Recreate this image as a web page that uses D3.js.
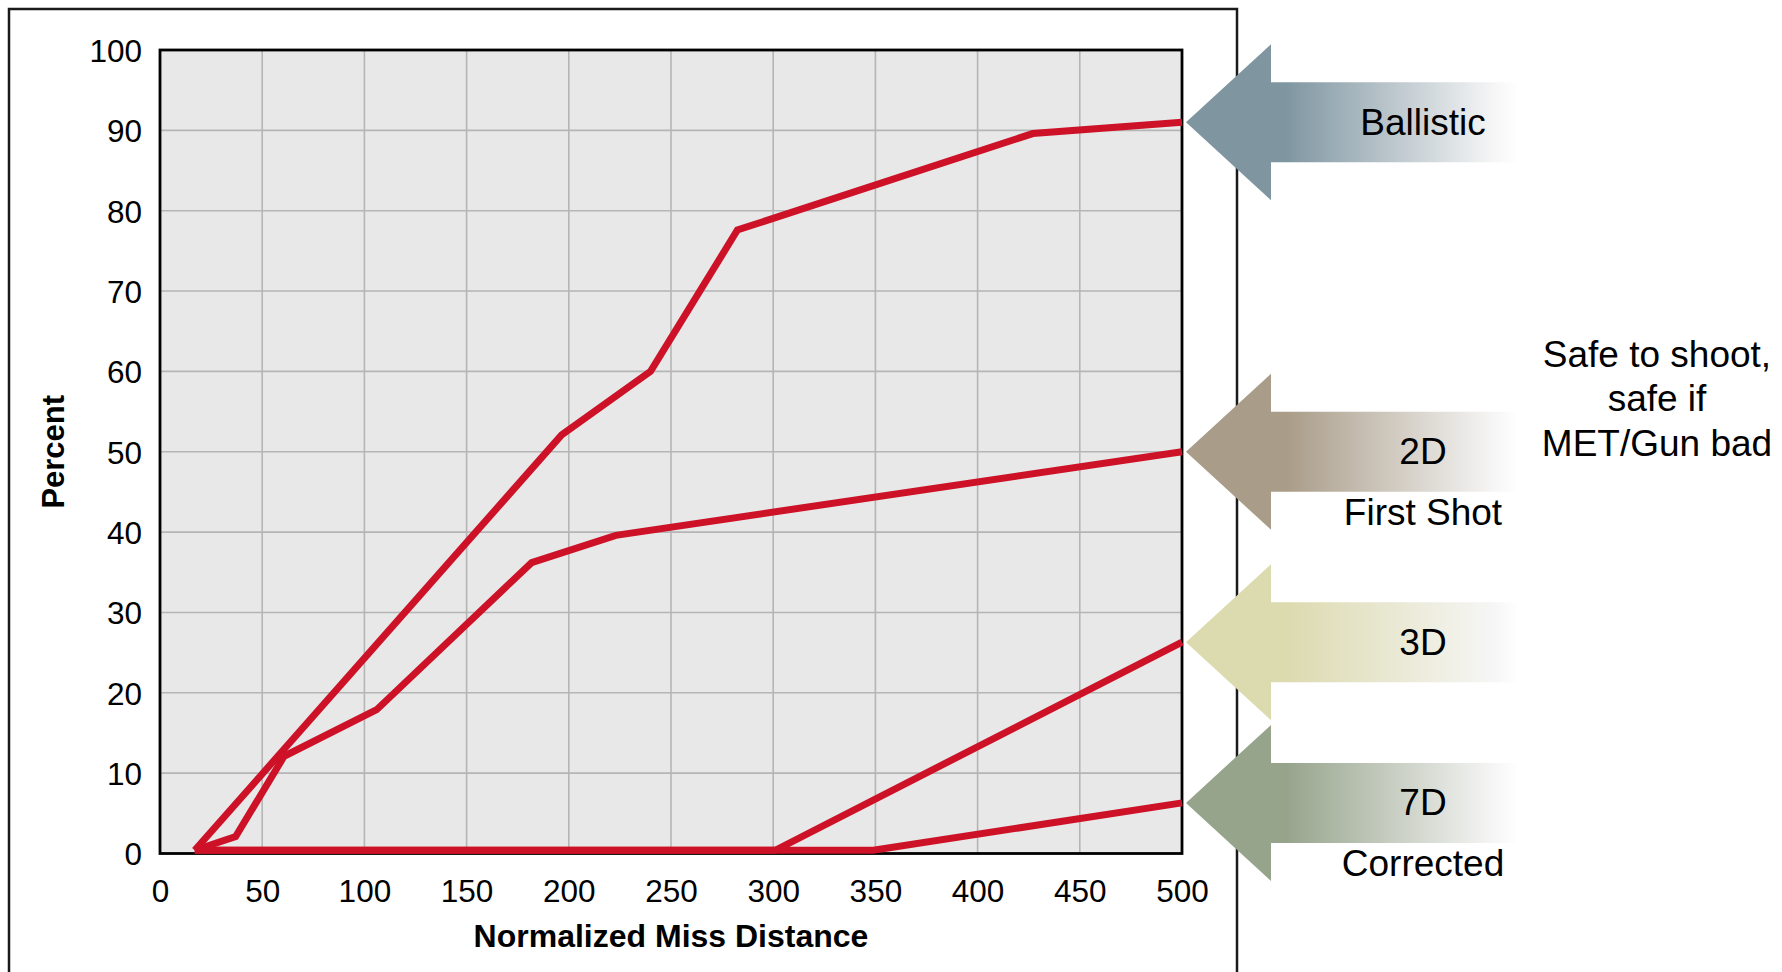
<!DOCTYPE html>
<html>
<head>
<meta charset="utf-8">
<script src="https://cdn.jsdelivr.net/npm/d3@7"></script>
<style>
  html, body { margin: 0; padding: 0; background: #fff; }
  svg { display: block; font-family: "Liberation Sans", Arial, Helvetica, sans-serif; }
</style>
</head>
<body>
<svg id="chart" width="1782" height="972"></svg>
<script>
// Cumulative percent of rounds vs. normalized miss distance, per targeting method
const xTickValues = [0, 50, 100, 150, 200, 250, 300, 350, 400, 450, 500];
const yTickValues = [0, 10, 20, 30, 40, 50, 60, 70, 80, 90, 100];

const ballistic = [[17, 0.4], [196.5, 52.1], [240, 60.0], [282.5, 77.6], [427, 89.6], [500, 91.0]];
const twoD      = [[17, 0.4], [37, 2.1], [60.7, 12.1], [106, 17.9], [181.8, 36.2], [223, 39.6], [500, 50.0]];
const threeD    = [[17, 0.4], [301, 0.4], [500, 26.3]];
const sevenD    = [[17, 0.4], [349, 0.4], [500, 6.3]];

const seriesNames  = ["Ballistic", "2D", "3D", "7D"];
const seriesNotes  = ["", "First Shot", "", "Corrected"];
const arrowColors  = ["#7f96a1", "#a99c88", "#dcdaaf", "#97a48c"];
const seriesData   = [ballistic, twoD, threeD, sevenD];

const sideNote = ["Safe to shoot,", "safe if", "MET/Gun bad"];

const xLabel = "Normalized Miss Distance";
const yLabel = "Percent";

const svg = d3.select("#chart");

const plot = { left: 160, right: 1182, top: 50, bottom: 853.5 };

const x = d3.scaleLinear().domain([0, 500]).range([plot.left, plot.right]);
const y = d3.scaleLinear().domain([0, 100]).range([plot.bottom, plot.top]);

// Outer panel frame (runs off the bottom edge)
svg.append("rect")
  .attr("x", 9).attr("y", 9)
  .attr("width", 1228).attr("height", 1100)
  .attr("fill", "none")
  .attr("stroke", "#1a1a1a")
  .attr("stroke-width", 2.5);

// Plot background
svg.append("rect")
  .attr("x", plot.left).attr("y", plot.top)
  .attr("width", plot.right - plot.left)
  .attr("height", plot.bottom - plot.top)
  .attr("fill", "#e8e8e8");

// Grid lines
const grid = svg.append("g").attr("class", "grid");
grid.selectAll("line.v")
  .data(xTickValues.slice(1, -1))
  .join("line")
  .attr("x1", d => x(d)).attr("x2", d => x(d))
  .attr("y1", plot.top).attr("y2", plot.bottom)
  .attr("stroke", "#b5b5b5").attr("stroke-width", 1.6);
grid.selectAll("line.h")
  .data(yTickValues.slice(1, -1))
  .join("line")
  .attr("x1", plot.left).attr("x2", plot.right)
  .attr("y1", d => y(d)).attr("y2", d => y(d))
  .attr("stroke", "#b5b5b5").attr("stroke-width", 1.6);

// Axes (labels only, no tick marks)
const xAxis = d3.axisBottom(x).tickValues(xTickValues).tickSize(0).tickPadding(0).tickFormat(d3.format("d"));
const yAxis = d3.axisLeft(y).tickValues(yTickValues).tickSize(0).tickPadding(0).tickFormat(d3.format("d"));

const gx = svg.append("g").attr("transform", `translate(0,${plot.bottom})`).call(xAxis);
gx.select(".domain").remove();
gx.selectAll("text")
  .attr("y", 48).attr("dy", null)
  .attr("font-size", 31.5).attr("font-family", "Liberation Sans, Arial, sans-serif")
  .attr("fill", "#000");

const gy = svg.append("g").attr("transform", `translate(${plot.left},0)`).call(yAxis);
gy.select(".domain").remove();
gy.selectAll("text")
  .attr("x", -18).attr("dy", "0.36em")
  .attr("font-size", 31.5).attr("font-family", "Liberation Sans, Arial, sans-serif")
  .attr("fill", "#000");

// Plot border
svg.append("rect")
  .attr("x", plot.left).attr("y", plot.top)
  .attr("width", plot.right - plot.left)
  .attr("height", plot.bottom - plot.top)
  .attr("fill", "none")
  .attr("stroke", "#000")
  .attr("stroke-width", 2.8);

// Series lines
const line = d3.line().x(d => x(d[0])).y(d => y(d[1]));
svg.append("g").selectAll("path")
  .data(seriesData)
  .join("path")
  .attr("d", line)
  .attr("fill", "none")
  .attr("stroke", "#cd1228")
  .attr("stroke-width", 7)
  .attr("stroke-linejoin", "miter")
  .attr("stroke-linecap", "butt");

// Axis titles
svg.append("text")
  .attr("x", (plot.left + plot.right) / 2)
  .attr("y", 947)
  .attr("text-anchor", "middle")
  .attr("font-size", 32)
  .attr("font-weight", "bold")
  .text(xLabel);

svg.append("text")
  .attr("transform", `translate(64,${(plot.top + plot.bottom) / 2}) rotate(-90)`)
  .attr("text-anchor", "middle")
  .attr("font-size", 31)
  .attr("font-weight", "bold")
  .text(yLabel);

// Gradient arrows pointing at each curve's end value
const defs = svg.append("defs");
const tipX = plot.right + 4;
const headLen = 85, headHalf = 78, shaftHalf = 40, tailX = 1518;

seriesNames.forEach((name, i) => {
  const id = "grad" + i;
  const g = defs.append("linearGradient")
    .attr("id", id)
    .attr("gradientUnits", "userSpaceOnUse")
    .attr("x1", tipX).attr("x2", tailX).attr("y1", 0).attr("y2", 0);
  g.append("stop").attr("offset", 0).attr("stop-color", arrowColors[i]);
  g.append("stop").attr("offset", 0.3).attr("stop-color", arrowColors[i]);
  g.append("stop").attr("offset", 0.93).attr("stop-color", "#f6f6f6");
  g.append("stop").attr("offset", 1).attr("stop-color", "#ffffff");
});

const arrows = svg.append("g").selectAll("g")
  .data(seriesNames.map((name, i) => ({
    name, note: seriesNotes[i], idx: i,
    end: seriesData[i][seriesData[i].length - 1][1]
  })))
  .join("g");

arrows.append("path")
  .attr("d", d => {
    const ty = y(d.end);
    const bx = tipX + headLen;
    return `M${tipX},${ty} L${bx},${ty - headHalf} L${bx},${ty - shaftHalf} L${tailX},${ty - shaftHalf}` +
           ` L${tailX},${ty + shaftHalf} L${bx},${ty + shaftHalf} L${bx},${ty + headHalf} Z`;
  })
  .attr("fill", d => `url(#grad${d.idx})`);

arrows.append("text")
  .attr("x", 1423)
  .attr("y", d => y(d.end) + 12.5)
  .attr("text-anchor", "middle")
  .attr("font-size", 37)
  .text(d => d.name);

arrows.filter(d => d.note)
  .append("text")
  .attr("x", 1423)
  .attr("y", d => y(d.end) + 73.5)
  .attr("text-anchor", "middle")
  .attr("font-size", 37)
  .text(d => d.note);

// Side note
svg.append("g").selectAll("text")
  .data(sideNote)
  .join("text")
  .attr("x", 1657)
  .attr("y", (d, i) => 366.5 + i * 44.7)
  .attr("text-anchor", "middle")
  .attr("font-size", 37)
  .text(d => d);
</script>
</body>
</html>
